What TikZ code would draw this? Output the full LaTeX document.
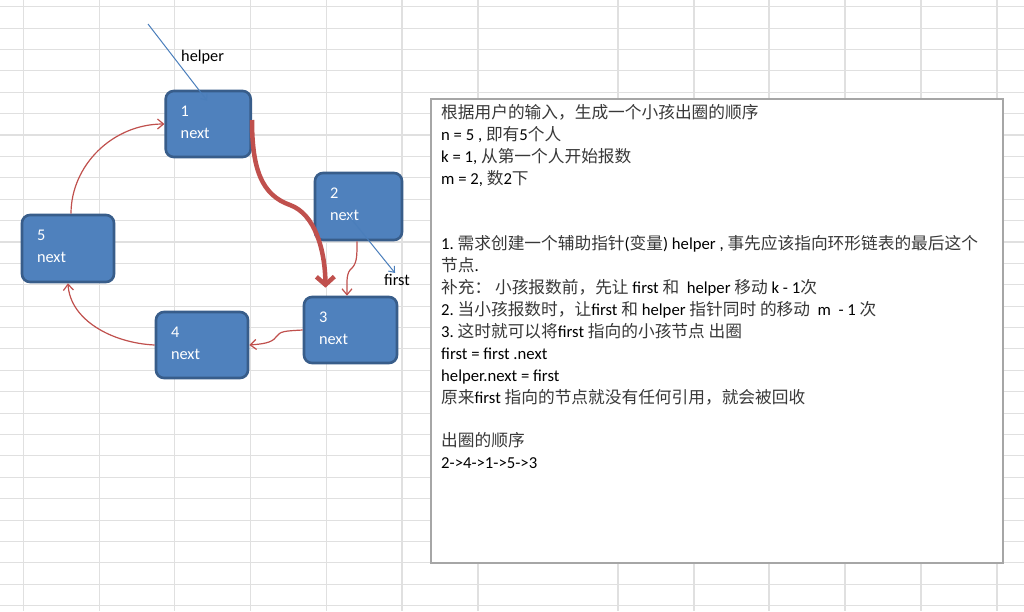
\documentclass[tikz,border=0pt]{standalone}
\usepackage{fontspec}
\setmainfont{Carlito}
\newfontfamily\cjk{Noto Sans CJK SC}
\usetikzlibrary{arrows.meta,calc}
\definecolor{nodefill}{HTML}{4F81BD}
\definecolor{nodeedge}{HTML}{385D8A}
\definecolor{redline}{HTML}{C0504D}
\definecolor{blueline}{HTML}{4A7EBB}
\definecolor{gridc}{HTML}{E0E0E0}
\definecolor{zhgray}{HTML}{383838}
\definecolor{boxedge}{HTML}{A6A6A6}
\newcommand\zh[1]{{\cjk\color{zhgray}#1}}
\begin{document}
\begin{tikzpicture}[x=1pt,y=-1pt,
  gridline/.style={draw=gridc, line width=1.1pt},
  listnode/.style={draw=nodeedge, line width=2.6pt, fill=nodefill, rounded corners=8pt,
    text=white, font=\fontsize{16.3}{22}\selectfont, align=left,
    inner xsep=15pt, inner ysep=0pt, text depth=26pt, anchor=center},
  redarrow/.style={draw=redline, line width=1.2pt, -{Straight Barb[length=6pt,width=10pt]}},
  redthick/.style={draw=redline, line width=4.5pt, -{Straight Barb[length=8pt,width=18pt]}},
  bluearrow/.style={draw=blueline, line width=1pt, -{Straight Barb[length=5pt,width=8pt]}},
  label/.style={font=\fontsize{16.3}{20}\selectfont, text=black, inner sep=0pt}
]
\useasboundingbox (0,0) rectangle (1024,611);
\fill[white] (0,0) rectangle (1024,611);
% spreadsheet grid
\foreach \x in {23.5,99.3,174.7,250.5,326.5,402,478,618,694,769,845,921,997}
  \draw[gridline] (\x,0) -- (\x,611);
\foreach \k in {0,...,28}
  \draw[gridline] (0,{6.7+21.39*\k}) -- (1024,{6.7+21.39*\k});

% text box
\node[draw=boxedge, line width=1.5pt, fill=white, minimum width=572pt, minimum height=464pt,
  anchor=north west, inner sep=0pt] (box) at (430,98) {};
\node[anchor=north west, inner sep=0pt, align=left, text=black,
  font=\fontsize{16.7}{21.9}\selectfont] (txt) at (441,104) {%
\zh{根据用户的输入，生成一个小孩出圈的顺序}\\
n = 5 , \zh{即有}5\zh{个人}\\
k = 1, \zh{从第一个人开始报数}\\
m = 2, \zh{数}2\zh{下}\\
\mbox{}\\
\mbox{}\\
1.\ \zh{需求创建一个辅助指针}(\zh{变量}) helper , \zh{事先应该指向环形链表的最后这个}\\
\zh{节点}.\\
\zh{补充：}\ \zh{小孩报数前，先让} first \zh{和}\ \ helper \zh{移动} k - 1\zh{次}\\
2.\ \zh{当小孩报数时，让}first \zh{和} helper \zh{指针同时} \zh{的移动}\ \ m\ \ - 1 \zh{次}\\
3.\ \zh{这时就可以将}first \zh{指向的小孩节点} \zh{出圈}\\
first = first .next\\
helper.next = first\\
\zh{原来}first \zh{指向的节点就没有任何引用，就会被回收}\\
\mbox{}\\
\zh{出圈的顺序}\\
2->4->1->5->3};

% list nodes
\node[listnode, text width=55pt, minimum height=66pt] (n1) at (208.2,124) {1\\next};
\node[listnode, text width=57pt, minimum height=67pt] (n2) at (358.5,206.5) {2\\next};
\node[listnode, text width=63pt, minimum height=66pt] (n3) at (350.5,330) {3\\next};
\node[listnode, text width=62pt, minimum height=66pt] (n4) at (202,345) {4\\next};
\node[listnode, text width=62pt, minimum height=67pt] (n5) at (68,248.5) {5\\next};

% circular links
\draw[redarrow] ($(n5.north)+(3,0)$) .. controls (71,165) and (113,124) .. (n1.west);
\draw[redarrow] (n4.west) .. controls (112,343) and (70,320) .. (n5.south);
\draw[redarrow] (n3.west) .. controls (285,331) and (280,331) .. (276,337)
  .. controls (272,343) and (262,344) .. (n4.east);
\draw[redarrow] ($(n2.south)+(-1.5,0)$) .. controls (357,258) and (357,264) .. (350,270)
  .. controls (346,275) and (347,285) .. ($(n3.north)+(-3.5,0)$);
% thick move arrow
\draw[redthick] ($(n1.east)+(0,-4)$) .. controls (252,170) and (262,195) .. (290,205)
  .. controls (315,214) and (325,250) .. ($(n3.north)+(-25,-8)$);

% pointers
\coordinate (hs) at (148,24);
\draw[bluearrow] (hs) -- ($(n1.north)+(-1,11)$);
\draw[bluearrow] ($(n2.center)+(-10,9)$) -- (395,273);
\node[label, anchor=west] (hl) at (181,57) {helper};
\node[label, anchor=west] (fl) at (384,280) {first};
\end{tikzpicture}
\end{document}
